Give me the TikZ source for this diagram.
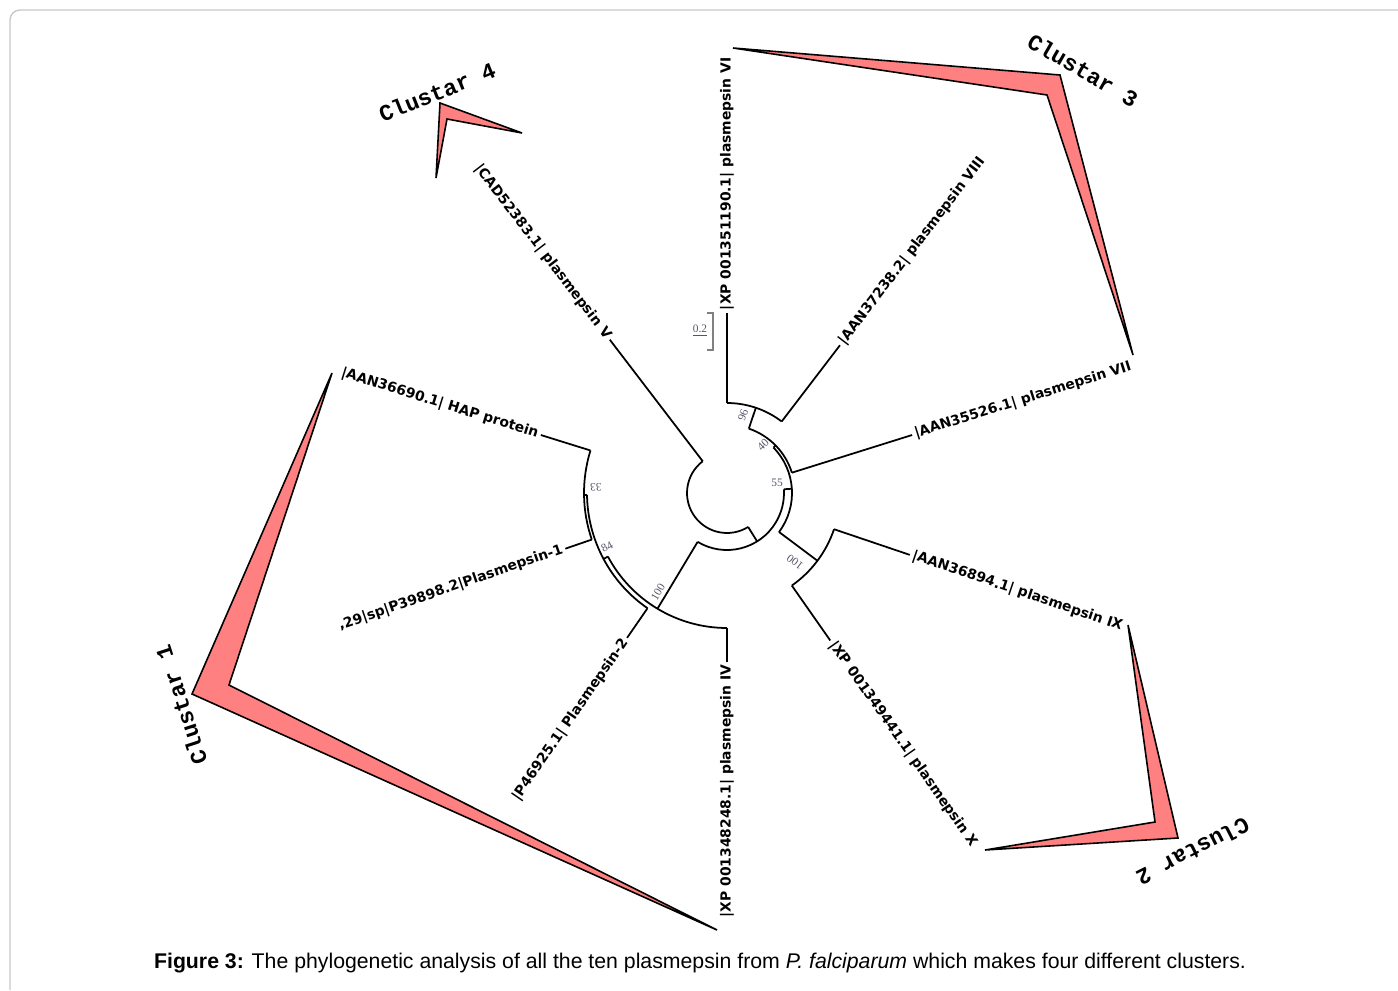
\documentclass[tikz,border=0pt]{standalone}
\usepackage{fontspec}
\setmainfont{Liberation Sans}
\newfontfamily\leaffont{DejaVu Sans}
\newfontfamily\clfont{Liberation Mono}
\newfontfamily\bsfont{Liberation Serif}
\definecolor{clred}{RGB}{255,128,128}
\definecolor{bsgray}{RGB}{85,85,105}
\definecolor{framegray}{RGB}{200,200,200}
\begin{document}
\begin{tikzpicture}[x=0.02cm,y=0.02cm,
  br/.style={line width=1pt},
  leafR/.style={font=\leaffont\bfseries\fontsize{7.9}{9}\selectfont, anchor=west, inner sep=1.5pt},
  leafL/.style={font=\leaffont\bfseries\fontsize{7.9}{9}\selectfont, anchor=east, inner sep=1.5pt},
  bs/.style={font=\bsfont\fontsize{6.5}{7}\selectfont, text=bsgray, inner sep=0pt},
  clus/.style={fill=clred, draw=black, line width=0.9pt, line join=miter},
  clab/.style={font=\clfont\bfseries\fontsize{13}{15}\selectfont, inner sep=0pt}]
\useasboundingbox (0,0) rectangle (1398,-990);
% frame
\draw[framegray, line width=0.8pt] (10,-990) -- (10,-20) arc[start angle=180, end angle=90, radius=0.2cm] -- (1398,-10);

% cluster shapes
\draw[clus] (436,-178) -- (440,-103) -- (522,-133) -- (447,-119) -- cycle;
\draw[clus] (733,-48) -- (1060,-75) -- (1133,-355) -- (1047,-95) -- cycle;
\draw[clus] (985,-850) -- (1178,-838) -- (1128,-625) -- (1155,-822) -- cycle;
\draw[clus] (332,-373) -- (192,-694) -- (717,-930) -- (229,-685) -- cycle;

\node[clab, rotate=22] (c4) at (437,-92) {Clustar 4};
\node[clab, rotate=-30] (c3) at (1083,-70) {Clustar 3};
\node[clab, rotate=207] (c2) at (1193,-852) {Clustar 2};
\node[clab, rotate=108] (c1) at (181,-705) {Clustar 1};

% tree
\begin{scope}[shift={(727,-493)}]
  % named points
  \coordinate (rCAD) at (127.4:40);  \coordinate (tCAD) at (127.4:193);
  \coordinate (rA) at (301.9:40);    \coordinate (nA) at (301.9:57);
  \coordinate (aL) at (239:57);      \coordinate (n100L) at (239:135);
  \coordinate (bIV) at (270:135);    \coordinate (tIV) at (270:169);
  \coordinate (a84) at (208.1:135);  \coordinate (n84) at (208.1:140);
  \coordinate (bPM2) at (235.4:140); \coordinate (tPM2) at (235.4:176);
  \coordinate (a33) at (180.85:140); \coordinate (n33) at (180.85:143);
  \coordinate (bHAP) at (162.7:143); \coordinate (tHAP) at (162.7:195);
  \coordinate (bPM1) at (199:143);   \coordinate (tPM1) at (199:171);
  \coordinate (a55) at (3.75:57);    \coordinate (n55) at (3.75:65);
  \coordinate (a100R) at (-36.85:65);\coordinate (n100R) at (-36.85:113);
  \coordinate (bIX) at (-18.7:113);  \coordinate (tIX) at (-18.7:193);
  \coordinate (bX) at (-55:113);     \coordinate (tX) at (-55:180);
  \coordinate (a40) at (44.35:65);   \coordinate (n40) at (44.35:68);
  \coordinate (bVII) at (17.4:68);   \coordinate (tVII) at (17.4:194);
  \coordinate (a96) at (71.3:68);    \coordinate (n96) at (71.3:90);
  \coordinate (bVI) at (90:90);      \coordinate (tVI) at (90:180);
  \coordinate (bVIII) at (52.6:90);  \coordinate (tVIII) at (52.6:186);

  % arcs
  \draw[br] (127.4:40) arc[start angle=127.4, end angle=301.9, radius=0.8cm];
  \draw[br] (239:57) arc[start angle=239, end angle=363.75, radius=1.14cm];
  \draw[br] (208.1:135) arc[start angle=208.1, end angle=270, radius=2.7cm];
  \draw[br] (180.85:140) arc[start angle=180.85, end angle=235.4, radius=2.8cm];
  \draw[br] (162.7:143) arc[start angle=162.7, end angle=199, radius=2.86cm];
  \draw[br] (-36.85:65) arc[start angle=-36.85, end angle=44.35, radius=1.3cm];
  \draw[br] (-55:113) arc[start angle=-55, end angle=-18.7, radius=2.26cm];
  \draw[br] (17.4:68) arc[start angle=17.4, end angle=71.3, radius=1.36cm];
  \draw[br] (52.6:90) arc[start angle=52.6, end angle=90, radius=1.8cm];

  % radial branches
  \draw[br] (rCAD) -- (tCAD);
  \draw[br] (rA) -- (nA);
  \draw[br] (aL) -- (n100L);
  \draw[br] (bIV) -- (tIV);
  \draw[br] (a84) -- (n84);
  \draw[br] (bPM2) -- (tPM2);
  \draw[br] (a33) -- (n33);
  \draw[br] (bHAP) -- (tHAP);
  \draw[br] (bPM1) -- (tPM1);
  \draw[br] (a55) -- (n55);
  \draw[br] (a100R) -- (n100R);
  \draw[br] (bIX) -- (tIX);
  \draw[br] (bX) -- (tX);
  \draw[br] (a40) -- (n40);
  \draw[br] (bVII) -- (tVII);
  \draw[br] (a96) -- (n96);
  \draw[br] (bVI) -- (tVI);
  \draw[br] (bVIII) -- (tVIII);

  % leaf labels
  \node[leafR, rotate=90] (lVI) at (tVI) {|XP 001351190.1| plasmepsin VI};
  \node[leafR, rotate=52.6] (lVIII) at (tVIII) {|AAN37238.2| plasmepsin VIII};
  \node[leafR, rotate=17.4] (lVII) at (tVII) {|AAN35526.1| plasmepsin VII};
  \node[leafR, rotate=-18.7] (lIX) at (tIX) {|AAN36894.1| plasmepsin IX};
  \node[leafR, rotate=-55] (lX) at (tX) {|XP 001349441.1| plasmepsin X};
  \node[leafL, rotate=90] (lIV) at (tIV) {|XP 001348248.1| plasmepsin IV};
  \node[leafL, rotate=55.4] (lPM2) at (tPM2) {|P46925.1| Plasmepsin-2};
  \node[leafL, rotate=19] (lPM1) at (tPM1) {,29|sp|P39898.2|Plasmepsin-1};
  \node[leafL, rotate=-17.3] (lHAP) at (tHAP) {|AAN36690.1| HAP protein};
  \node[leafL, rotate=-52.6] (lCAD) at (tCAD) {|CAD52383.1| plasmepsin V};
\end{scope}

% bootstrap values
\node[bs, rotate=71] (b96) at (743,-415) {96};
\node[bs, rotate=44] (b40) at (763,-445) {40};
\node[bs] (b55) at (777,-483) {55};
\node[bs, rotate=143] (b100R) at (795,-562) {100};
\node[bs, rotate=181] (b33) at (596,-487) {33};
\node[bs, rotate=28] (b84) at (607,-547) {84};
\node[bs, rotate=59] (b100L) at (658,-592) {100};

% scale bar
\coordinate (sbT) at (707,-313);
\coordinate (sbB) at (707,-350);
\draw[gray, line width=0.7pt] (sbT) -- ++(6,0) |- (sbB);
\node[bs] (sbl) at (700,-331) {\underline{0.2}};

% caption
\node[font=\fontsize{12.1}{14}\selectfont, inner sep=0pt] (cap) at (700,-963)
  {\textbf{Figure 3:} The phylogenetic analysis of all the ten plasmepsin from \textit{P. falciparum} which makes four different clusters.};
\end{tikzpicture}
\end{document}
